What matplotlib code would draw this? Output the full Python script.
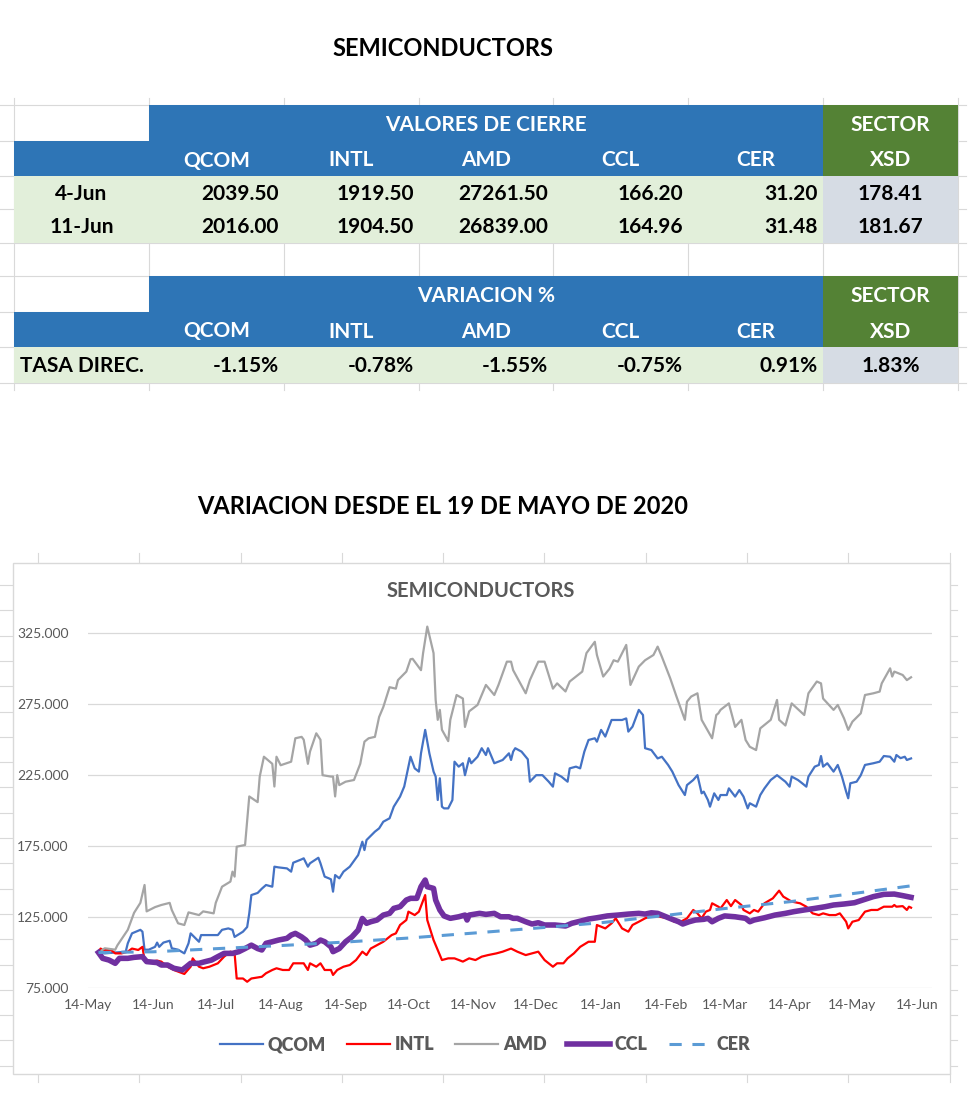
import matplotlib.pyplot as plt
import matplotlib.dates as mdates
from matplotlib.patches import Rectangle
import pandas as pd

plt.rcParams['font.family'] = ['Lato', 'DejaVu Sans']

# ---- table data ----
tickers = ["QCOM", "INTL", "AMD", "CCL", "CER"]
row_dates = ["4-Jun", "11-Jun"]
close_4jun = [2039.50, 1919.50, 27261.50, 166.20, 31.20]
close_11jun = [2016.00, 1904.50, 26839.00, 164.96, 31.48]
xsd_close = [178.41, 181.67]
variation = [-1.15, -0.78, -1.55, -0.75, 0.91]
xsd_variation = 1.83

# ---- chart data (base 100 = 19 May 2020) ----
qcom = [("2020-05-19", 100), ("2020-05-22", 99.4), ("2020-05-27", 100), ("2020-06-01", 100.6),
        ("2020-06-02", 106.5), ("2020-06-04", 113.5), ("2020-06-08", 116), ("2020-06-09", 114.7),
        ("2020-06-10", 102), ("2020-06-12", 102), ("2020-06-15", 104), ("2020-06-16", 107),
        ("2020-06-17", 104), ("2020-06-19", 107), ("2020-06-22", 108.3), ("2020-06-23", 103),
        ("2020-06-26", 102), ("2020-06-29", 99.4), ("2020-07-01", 106.5), ("2020-07-02", 113.5),
        ("2020-07-06", 107.6), ("2020-07-07", 112.3), ("2020-07-13", 112.3), ("2020-07-15", 112.3),
        ("2020-07-17", 116), ("2020-07-20", 117), ("2020-07-22", 116), ("2020-07-23", 111),
        ("2020-07-27", 114.7), ("2020-07-29", 118), ("2020-07-30", 127.6), ("2020-07-31", 140.5),
        ("2020-08-03", 142), ("2020-08-05", 145), ("2020-08-07", 147.6), ("2020-08-10", 146.4),
        ("2020-08-11", 160.5), ("2020-08-13", 160), ("2020-08-17", 159.3), ("2020-08-19", 157),
        ("2020-08-20", 163.3), ("2020-08-24", 165.7), ("2020-08-25", 166.4), ("2020-08-27", 160.5),
        ("2020-08-28", 162.9), ("2020-09-01", 166.8), ("2020-09-02", 162.9), ("2020-09-04", 153.5),
        ("2020-09-06", 152.3), ("2020-09-07", 151.6), ("2020-09-08", 142.9), ("2020-09-09", 154.6),
        ("2020-09-11", 152.3), ("2020-09-13", 157), ("2020-09-16", 160.5), ("2020-09-20", 168.7),
        ("2020-09-22", 178.1), ("2020-09-23", 172.2), ("2020-09-24", 179.3), ("2020-09-28", 185.2),
        ("2020-09-30", 187.5), ("2020-10-02", 192.2), ("2020-10-05", 194.6), ("2020-10-07", 202.8),
        ("2020-10-10", 209.9), ("2020-10-12", 217), ("2020-10-14", 231), ("2020-10-15", 238),
        ("2020-10-17", 229.8), ("2020-10-19", 227.5), ("2020-10-20", 240.4), ("2020-10-22", 256.9),
        ("2020-10-24", 240.4), ("2020-10-26", 227.5), ("2020-10-27", 224), ("2020-10-28", 207.5),
        ("2020-10-29", 222.8), ("2020-10-30", 202.8), ("2020-10-31", 201.6), ("2020-11-02", 201.6),
        ("2020-11-04", 207.5), ("2020-11-05", 234.5), ("2020-11-07", 231), ("2020-11-09", 233.4),
        ("2020-11-10", 225), ("2020-11-12", 237), ("2020-11-13", 233.4), ("2020-11-16", 238),
        ("2020-11-18", 244), ("2020-11-20", 239.2), ("2020-11-21", 244), ("2020-11-24", 233.4),
        ("2020-11-28", 235.7), ("2020-12-01", 240.4), ("2020-12-02", 235.7), ("2020-12-03", 241.6),
        ("2020-12-04", 244), ("2020-12-07", 241.6), ("2020-12-10", 236.2), ("2020-12-11", 220.4),
        ("2020-12-14", 225), ("2020-12-17", 225), ("2020-12-20", 220.4), ("2020-12-22", 216.9),
        ("2020-12-23", 226.3), ("2020-12-26", 224), ("2020-12-29", 220.4), ("2020-12-30", 229.8),
        ("2021-01-02", 231), ("2021-01-04", 229.8), ("2021-01-06", 241.6), ("2021-01-08", 249.8),
        ("2021-01-11", 251), ("2021-01-12", 248.6), ("2021-01-14", 256.9), ("2021-01-16", 252.2),
        ("2021-01-19", 263.9), ("2021-01-21", 263.9), ("2021-01-24", 263.9), ("2021-01-26", 265),
        ("2021-01-27", 255.7), ("2021-01-29", 259.2), ("2021-02-01", 271), ("2021-02-03", 267.4),
        ("2021-02-04", 244), ("2021-02-07", 242.7), ("2021-02-10", 236.8), ("2021-02-12", 238),
        ("2021-02-15", 232.2), ("2021-02-17", 227.5), ("2021-02-20", 218), ("2021-02-23", 211),
        ("2021-02-24", 218), ("2021-02-27", 221.6), ("2021-03-01", 225), ("2021-03-03", 212.2),
        ("2021-03-04", 213.4), ("2021-03-06", 207.5), ("2021-03-07", 202.8), ("2021-03-09", 212.2),
        ("2021-03-11", 207.5), ("2021-03-12", 211), ("2021-03-15", 211), ("2021-03-16", 215.7),
        ("2021-03-19", 209.9), ("2021-03-21", 214.5), ("2021-03-23", 209.9), ("2021-03-25", 201.6),
        ("2021-03-26", 205.2), ("2021-03-29", 202.8), ("2021-03-31", 211), ("2021-04-02", 215.7),
        ("2021-04-05", 221.6), ("2021-04-08", 225), ("2021-04-10", 222.7), ("2021-04-12", 220.4),
        ("2021-04-14", 216.9), ("2021-04-15", 224), ("2021-04-18", 221.6), ("2021-04-20", 219.3),
        ("2021-04-22", 216.9), ("2021-04-23", 224), ("2021-04-26", 231), ("2021-04-28", 232.2),
        ("2021-04-29", 238.5), ("2021-04-30", 231), ("2021-05-02", 233.4), ("2021-05-05", 227.5),
        ("2021-05-07", 232.2), ("2021-05-09", 224), ("2021-05-11", 213.4), ("2021-05-12", 208.7),
        ("2021-05-13", 219.3), ("2021-05-16", 220.4), ("2021-05-18", 225), ("2021-05-20", 232.2),
        ("2021-05-24", 233.4), ("2021-05-27", 234.5), ("2021-05-29", 238.5), ("2021-06-01", 238),
        ("2021-06-03", 234.5), ("2021-06-04", 239.2), ("2021-06-06", 237), ("2021-06-08", 238),
        ("2021-06-09", 235.7), ("2021-06-11", 236.8)]

intl = [("2020-05-19", 100), ("2020-05-20", 102.8), ("2020-05-21", 101.8), ("2020-05-25", 101.8),
        ("2020-05-27", 99.4), ("2020-05-30", 99.4), ("2020-06-02", 100.6), ("2020-06-04", 102.8),
        ("2020-06-07", 101.8), ("2020-06-09", 104), ("2020-06-10", 94.7), ("2020-06-13", 93.6),
        ("2020-06-16", 94.3), ("2020-06-18", 93.6), ("2020-06-21", 90), ("2020-06-24", 87.7),
        ("2020-06-28", 85.4), ("2020-06-29", 84.9), ("2020-07-02", 90), ("2020-07-03", 95.9),
        ("2020-07-06", 90), ("2020-07-08", 88.9), ("2020-07-11", 90), ("2020-07-15", 92.4),
        ("2020-07-18", 97.1), ("2020-07-21", 100.6), ("2020-07-23", 99.4), ("2020-07-24", 81.7),
        ("2020-07-27", 81.7), ("2020-07-29", 79.4), ("2020-07-31", 81.7), ("2020-08-05", 82.9),
        ("2020-08-07", 85.4), ("2020-08-10", 87.7), ("2020-08-12", 88.9), ("2020-08-15", 87.7),
        ("2020-08-18", 87.7), ("2020-08-20", 92.4), ("2020-08-23", 92.4), ("2020-08-25", 92.4),
        ("2020-08-27", 87.7), ("2020-08-28", 92.4), ("2020-08-31", 90), ("2020-09-02", 92.4),
        ("2020-09-04", 87.7), ("2020-09-07", 87.7), ("2020-09-08", 84.2), ("2020-09-10", 87.7),
        ("2020-09-13", 90), ("2020-09-16", 91.2), ("2020-09-19", 94.7), ("2020-09-22", 100.6),
        ("2020-09-24", 98.2), ("2020-09-26", 102.8), ("2020-09-29", 105.2), ("2020-10-02", 107.6),
        ("2020-10-06", 112.3), ("2020-10-08", 113.5), ("2020-10-10", 119.4), ("2020-10-13", 122.9),
        ("2020-10-14", 128.8), ("2020-10-17", 126.4), ("2020-10-19", 128.8), ("2020-10-22", 140.5),
        ("2020-10-23", 122.9), ("2020-10-26", 108.8), ("2020-10-30", 94.7), ("2020-11-02", 95.9),
        ("2020-11-05", 95.9), ("2020-11-09", 93.6), ("2020-11-12", 95.9), ("2020-11-15", 94.7),
        ("2020-11-18", 97.1), ("2020-11-21", 98.2), ("2020-11-25", 99.4), ("2020-11-28", 100.6),
        ("2020-12-02", 102.8), ("2020-12-05", 100.6), ("2020-12-09", 98.2), ("2020-12-12", 99.4),
        ("2020-12-15", 100.6), ("2020-12-18", 94.7), ("2020-12-22", 90), ("2020-12-24", 92.4),
        ("2020-12-27", 92.4), ("2020-12-29", 95.9), ("2021-01-01", 99.4), ("2021-01-04", 104),
        ("2021-01-08", 107.6), ("2021-01-11", 107.6), ("2021-01-12", 119.4), ("2021-01-16", 117),
        ("2021-01-19", 120.6), ("2021-01-21", 124.1), ("2021-01-24", 117), ("2021-01-27", 114.7),
        ("2021-01-29", 119.4), ("2021-02-01", 121.7), ("2021-02-04", 124.1), ("2021-02-08", 126.4),
        ("2021-02-11", 125.2), ("2021-02-15", 124.1), ("2021-02-18", 121.7), ("2021-02-21", 121.7),
        ("2021-02-24", 124.1), ("2021-02-27", 130), ("2021-03-01", 127.6), ("2021-03-03", 124.1),
        ("2021-03-05", 128.8), ("2021-03-07", 130), ("2021-03-08", 134.7), ("2021-03-11", 132.3),
        ("2021-03-12", 131.1), ("2021-03-15", 137), ("2021-03-17", 132.7), ("2021-03-19", 137),
        ("2021-03-22", 133.5), ("2021-03-23", 130), ("2021-03-26", 127.6), ("2021-03-28", 130),
        ("2021-03-30", 128.8), ("2021-04-02", 134.7), ("2021-04-06", 138.2), ("2021-04-09", 143.6),
        ("2021-04-11", 139.4), ("2021-04-15", 135.9), ("2021-04-19", 134.7), ("2021-04-22", 132.3),
        ("2021-04-25", 127.6), ("2021-04-28", 126.4), ("2021-04-30", 127.6), ("2021-05-03", 126.4),
        ("2021-05-06", 126.4), ("2021-05-08", 127.6), ("2021-05-11", 121.7), ("2021-05-12", 117),
        ("2021-05-14", 121.7), ("2021-05-17", 122.9), ("2021-05-20", 128.8), ("2021-05-23", 130),
        ("2021-05-26", 130), ("2021-05-29", 132.3), ("2021-06-02", 132.3), ("2021-06-03", 133.5),
        ("2021-06-04", 132.3), ("2021-06-07", 132.7), ("2021-06-09", 130), ("2021-06-10", 132.3),
        ("2021-06-11", 131.6)]

amd = [("2020-05-19", 100), ("2020-05-22", 103), ("2020-05-27", 102), ("2020-05-28", 105),
       ("2020-06-02", 116), ("2020-06-05", 128), ("2020-06-08", 135), ("2020-06-10", 147.6),
       ("2020-06-11", 129), ("2020-06-15", 132), ("2020-06-18", 133.5), ("2020-06-22", 135),
       ("2020-06-23", 130), ("2020-06-26", 120.6), ("2020-06-29", 119.4), ("2020-07-01", 128.3),
       ("2020-07-06", 126.4), ("2020-07-08", 129), ("2020-07-13", 127.6), ("2020-07-14", 135),
       ("2020-07-17", 146.4), ("2020-07-21", 150), ("2020-07-22", 157), ("2020-07-23", 153.5),
       ("2020-07-24", 174.6), ("2020-07-28", 175.8), ("2020-07-30", 210), ("2020-08-03", 206),
       ("2020-08-04", 224), ("2020-08-06", 238), ("2020-08-10", 233), ("2020-08-11", 217),
       ("2020-08-12", 238), ("2020-08-14", 232), ("2020-08-19", 234.5), ("2020-08-21", 251),
       ("2020-08-24", 252), ("2020-08-25", 250), ("2020-08-27", 233), ("2020-08-28", 241.6),
       ("2020-08-31", 254.5), ("2020-09-02", 250), ("2020-09-03", 225), ("2020-09-07", 224),
       ("2020-09-08", 224), ("2020-09-09", 210), ("2020-09-10", 225), ("2020-09-11", 218),
       ("2020-09-14", 220.4), ("2020-09-18", 221.6), ("2020-09-21", 233), ("2020-09-23", 248.6),
       ("2020-09-25", 251), ("2020-09-28", 252), ("2020-09-30", 266), ("2020-10-02", 273),
       ("2020-10-05", 287), ("2020-10-08", 286), ("2020-10-09", 292), ("2020-10-13", 298),
       ("2020-10-15", 306.7), ("2020-10-16", 307), ("2020-10-20", 299), ("2020-10-21", 311),
       ("2020-10-23", 329.7), ("2020-10-26", 311), ("2020-10-27", 278), ("2020-10-28", 264),
       ("2020-10-29", 271), ("2020-10-30", 257), ("2020-11-02", 249), ("2020-11-03", 264),
       ("2020-11-06", 281.5), ("2020-11-09", 279), ("2020-11-10", 259), ("2020-11-12", 270),
       ("2020-11-16", 274.5), ("2020-11-20", 288.6), ("2020-11-24", 281.5), ("2020-11-26", 288.6),
       ("2020-11-30", 305), ("2020-12-02", 305), ("2020-12-03", 299), ("2020-12-09", 282.7),
       ("2020-12-11", 292), ("2020-12-15", 305), ("2020-12-18", 305), ("2020-12-22", 286),
       ("2020-12-24", 289.7), ("2020-12-28", 284), ("2020-12-30", 291), ("2021-01-05", 298),
       ("2021-01-07", 311), ("2021-01-11", 319), ("2021-01-12", 309.7), ("2021-01-15", 294.5),
       ("2021-01-18", 300), ("2021-01-20", 306), ("2021-01-22", 305), ("2021-01-26", 316.8),
       ("2021-01-28", 288.6), ("2021-02-01", 301.5), ("2021-02-04", 306), ("2021-02-08", 309.7),
       ("2021-02-10", 315.6), ("2021-02-12", 308.5), ("2021-02-16", 293.3), ("2021-02-19", 280.4),
       ("2021-02-23", 264), ("2021-02-24", 276.8), ("2021-02-26", 280.4), ("2021-03-01", 282.7),
       ("2021-03-03", 264), ("2021-03-08", 251), ("2021-03-10", 267.4), ("2021-03-11", 268.6),
       ("2021-03-12", 271), ("2021-03-16", 275.6), ("2021-03-19", 259), ("2021-03-22", 264),
       ("2021-03-24", 249.8), ("2021-03-26", 245), ("2021-03-29", 242.7), ("2021-03-31", 258),
       ("2021-04-05", 264), ("2021-04-08", 278), ("2021-04-09", 264), ("2021-04-12", 260),
       ("2021-04-15", 275.6), ("2021-04-21", 267.4), ("2021-04-23", 282.7), ("2021-04-27", 291),
       ("2021-04-29", 289.7), ("2021-04-30", 279), ("2021-05-05", 271), ("2021-05-07", 274.5),
       ("2021-05-10", 265), ("2021-05-12", 256.9), ("2021-05-14", 262.7), ("2021-05-18", 268.6),
       ("2021-05-20", 281.5), ("2021-05-24", 282.7), ("2021-05-27", 283.9), ("2021-05-28", 289.7),
       ("2021-06-01", 300.3), ("2021-06-02", 294.5), ("2021-06-03", 298), ("2021-06-07", 295.6),
       ("2021-06-09", 292), ("2021-06-11", 294)]

ccl = [("2020-05-19", 100), ("2020-05-21", 95.9), ("2020-05-24", 94.7), ("2020-05-27", 92.4),
       ("2020-05-29", 95.9), ("2020-06-02", 95.9), ("2020-06-05", 96.6), ("2020-06-09", 97.1),
       ("2020-06-11", 93.6), ("2020-06-16", 92.9), ("2020-06-18", 91.2), ("2020-06-21", 91.2),
       ("2020-06-24", 88.9), ("2020-06-28", 87.7), ("2020-06-30", 90), ("2020-07-02", 92.4),
       ("2020-07-06", 92.4), ("2020-07-09", 93.6), ("2020-07-12", 94.7), ("2020-07-15", 97.1),
       ("2020-07-18", 99.4), ("2020-07-22", 99.4), ("2020-07-25", 100.6), ("2020-07-28", 102.8),
       ("2020-07-31", 105.2), ("2020-08-03", 102.8), ("2020-08-05", 101.8), ("2020-08-07", 106.5),
       ("2020-08-10", 107.6), ("2020-08-13", 108.8), ("2020-08-17", 110), ("2020-08-19", 112.3),
       ("2020-08-21", 113.5), ("2020-08-24", 111), ("2020-08-26", 108.8), ("2020-08-28", 105.2),
       ("2020-08-31", 106.5), ("2020-09-02", 108.8), ("2020-09-04", 107.6), ("2020-09-07", 104),
       ("2020-09-08", 100.6), ("2020-09-11", 102.8), ("2020-09-14", 107.6), ("2020-09-17", 111),
       ("2020-09-20", 115.8), ("2020-09-22", 124), ("2020-09-24", 120.6), ("2020-09-26", 121.7),
       ("2020-09-29", 122.9), ("2020-10-02", 126.4), ("2020-10-05", 127.6), ("2020-10-07", 131.1),
       ("2020-10-10", 132.3), ("2020-10-13", 137), ("2020-10-15", 138.2), ("2020-10-18", 138.2),
       ("2020-10-20", 146.4), ("2020-10-22", 151.1), ("2020-10-23", 146.4), ("2020-10-26", 145.2),
       ("2020-10-27", 137), ("2020-10-29", 130), ("2020-10-31", 125.8), ("2020-11-03", 124.1),
       ("2020-11-07", 125.2), ("2020-11-10", 126.4), ("2020-11-11", 122.9), ("2020-11-12", 126.4),
       ("2020-11-17", 127.6), ("2020-11-20", 126.9), ("2020-11-24", 127.6), ("2020-11-27", 125.2),
       ("2020-12-01", 125.2), ("2020-12-03", 124.1), ("2020-12-05", 124.1), ("2020-12-09", 121.7),
       ("2020-12-12", 120.1), ("2020-12-15", 121), ("2020-12-18", 119.4), ("2020-12-23", 119.4),
       ("2020-12-28", 118.7), ("2020-12-31", 120.6), ("2021-01-03", 121.7), ("2021-01-08", 123.6),
       ("2021-01-12", 124.5), ("2021-01-17", 125.8), ("2021-01-22", 126.4), ("2021-01-27", 127.1),
       ("2021-02-01", 127.6), ("2021-02-04", 127.1), ("2021-02-07", 128), ("2021-02-10", 127.6),
       ("2021-02-13", 125.8), ("2021-02-17", 123.4), ("2021-02-20", 121.7), ("2021-02-22", 120.1),
       ("2021-02-25", 121.7), ("2021-02-28", 122.9), ("2021-03-04", 123.4), ("2021-03-06", 124.1),
       ("2021-03-08", 121.7), ("2021-03-11", 124.1), ("2021-03-14", 125.8), ("2021-03-19", 125.2),
       ("2021-03-24", 124.1), ("2021-03-26", 121.7), ("2021-03-28", 122.9), ("2021-04-02", 124.5),
       ("2021-04-07", 126.4), ("2021-04-12", 127.6), ("2021-04-16", 128.8), ("2021-04-21", 130),
       ("2021-04-26", 131.1), ("2021-05-01", 132.3), ("2021-05-05", 133.5), ("2021-05-10", 134.2),
       ("2021-05-15", 135.1), ("2021-05-20", 137.5), ("2021-05-24", 139.4), ("2021-05-29", 141),
       ("2021-06-03", 141.2), ("2021-06-07", 140.1), ("2021-06-11", 138.9)]

cer = [("2020-05-19", 100), ("2020-06-14", 100.5), ("2020-07-14", 102.7), ("2020-08-14", 104.9),
       ("2020-09-14", 107.4), ("2020-10-14", 110.2), ("2020-11-14", 113.7), ("2020-12-14", 117.2),
       ("2021-01-14", 121), ("2021-02-14", 126.2), ("2021-03-14", 131), ("2021-04-14", 135.8),
       ("2021-05-14", 141.5), ("2021-06-11", 147)]

series = [("QCOM", qcom, "#4472C4", 1.6, "-"),
          ("INTL", intl, "#FF0000", 1.6, "-"),
          ("AMD", amd, "#A5A5A5", 1.6, "-"),
          ("CCL", ccl, "#7030A0", 4.0, "-"),
          ("CER", cer, "#5B9BD5", 2.2, (0, (4, 3.5)))]

W, H = 980, 1096
fig = plt.figure(figsize=(W / 100, H / 100), dpi=100)

# background layer in pixel coordinates (table, titles, chart frame)
bg = fig.add_axes([0, 0, 1, 1])
bg.set_xlim(0, W)
bg.set_ylim(H, 0)
bg.axis('off')

blue = "#2E75B6"
green = "#548235"
lgreen = "#E2EFDA"
lgray = "#D6DCE4"
grid = "#D9D9D9"

col_x = [14, 149, 284, 419, 553, 688, 823, 958]
top_rows = [105, 141, 176, 209, 243]
bot_rows = [276, 312, 347, 383]

# spreadsheet cell grid peeking around the table
for x in col_x:
    bg.plot([x, x], [98, 390], color=grid, lw=0.8, zorder=0)
for y in top_rows + bot_rows:
    bg.plot([0, 966], [y, y], color=grid, lw=0.8, zorder=0)


def cell(x0, x1, y0, y1, color):
    bg.add_patch(Rectangle((x0, y0), x1 - x0, y1 - y0, facecolor=color, edgecolor='none', zorder=1))


def header_block(rows, label):
    r0, r1, r2 = rows
    cell(col_x[1], col_x[6], r0, r1, blue)
    cell(col_x[0], col_x[6], r1, r2, blue)
    cell(col_x[6], col_x[7], r0, r2, green)
    bg.text((col_x[1] + col_x[6]) / 2, (r0 + r1) / 2 + 2, label, color='white',
            fontsize=15, fontweight='bold', ha='center', va='center', zorder=3)
    bg.text((col_x[6] + col_x[7]) / 2, (r0 + r1) / 2 + 2, "SECTOR", color='white',
            fontsize=15, fontweight='bold', ha='center', va='center', zorder=3)
    bg.text((col_x[6] + col_x[7]) / 2, (r1 + r2) / 2 + 2, "XSD", color='white',
            fontsize=15, fontweight='bold', ha='center', va='center', zorder=3)
    for i, t in enumerate(tickers):
        bg.text((col_x[i + 1] + col_x[i + 2]) / 2, (r1 + r2) / 2 + 2, t, color='white',
                fontsize=15, fontweight='bold', ha='center', va='center', zorder=3)


header_block(top_rows[:3], "VALORES DE CIERRE")
for k, (lab, vals) in enumerate(zip(row_dates, [close_4jun, close_11jun])):
    y0, y1 = top_rows[2 + k], top_rows[3 + k]
    cell(col_x[0], col_x[6], y0, y1, lgreen)
    cell(col_x[6], col_x[7], y0, y1, lgray)
    yc = (y0 + y1) / 2 + 1
    bg.text((col_x[0] + col_x[1]) / 2, yc, lab, fontsize=15, fontweight='bold',
            ha='center', va='center', zorder=3)
    for i, v in enumerate(vals):
        bg.text(col_x[i + 2] - 5, yc, f"{v:.2f}", fontsize=15, fontweight='bold',
                ha='right', va='center', zorder=3)
    bg.text((col_x[6] + col_x[7]) / 2, yc, f"{xsd_close[k]:.2f}", fontsize=15,
            fontweight='bold', ha='center', va='center', zorder=3)

header_block(bot_rows[:3], "VARIACION %")
y0, y1 = bot_rows[2], bot_rows[3]
cell(col_x[0], col_x[6], y0, y1, lgreen)
cell(col_x[6], col_x[7], y0, y1, lgray)
yc = (y0 + y1) / 2 + 1
bg.text(col_x[0] + 6, yc, "TASA DIREC.", fontsize=15, fontweight='bold',
        ha='left', va='center', zorder=3)
for i, v in enumerate(variation):
    bg.text(col_x[i + 2] - 5, yc, f"{v:.2f}%", fontsize=15, fontweight='bold',
            ha='right', va='center', zorder=3)
bg.text((col_x[6] + col_x[7]) / 2, yc, f"{xsd_variation:.2f}%", fontsize=15,
        fontweight='bold', ha='center', va='center', zorder=3)

bg.text(443, 48, "SEMICONDUCTORS", fontsize=17, fontweight='bold', ha='center', va='center')
bg.text(443, 506, "VARIACION DESDE EL 19 DE MAYO DE 2020", fontsize=17, fontweight='bold',
        ha='center', va='center')

# chart frame + faint sheet grid around it
for x in [38, 139, 241, 342, 443, 544, 646, 747, 848, 950]:
    bg.plot([x, x], [553, 563], color=grid, lw=0.8, zorder=0)
    bg.plot([x, x], [1074, 1082], color=grid, lw=0.8, zorder=0)
for k in range(20):
    y = 585 + 25.3 * k
    if y < 1074:
        bg.plot([0, 13], [y, y], color=grid, lw=0.8, zorder=0)
        bg.plot([950, 957], [y, y], color=grid, lw=0.8, zorder=0)
bg.add_patch(Rectangle((13, 563), 937, 511, facecolor='white', edgecolor=grid, lw=1.0, zorder=1))
bg.text(481, 591, "SEMICONDUCTORS", fontsize=14.5, fontweight='bold', color='#595959',
        ha='center', va='center', zorder=3)

# ---- line chart ----
ax = fig.add_axes([88 / W, 1 - 988 / H, (932 - 88) / W, (988 - 612) / H])
ax.set_facecolor('none')
for name, data, color, lw, ls in series:
    d = pd.to_datetime([p[0] for p in data])
    v = [p[1] for p in data]
    ax.plot(d, v, color=color, lw=lw, linestyle=ls, label=name, solid_joinstyle='round')

ax.set_ylim(75, 340)
ax.set_yticks([75, 125, 175, 225, 275, 325])
ax.yaxis.set_major_formatter(plt.FuncFormatter(lambda v, p: f"{v:.3f}"))
ax.set_xlim(pd.Timestamp("2020-05-14"), pd.Timestamp("2021-06-21"))
ax.xaxis.set_major_locator(mdates.MonthLocator(bymonthday=14))
ax.xaxis.set_major_formatter(mdates.DateFormatter('%d-%b'))
ax.grid(axis='y', color=grid, lw=0.9)
ax.set_axisbelow(True)
for s in ax.spines.values():
    s.set_visible(False)
ax.tick_params(axis='both', length=0, labelsize=10, labelcolor='#595959')
ax.tick_params(axis='x', pad=8)
ax.tick_params(axis='y', pad=14)

leg = ax.legend(loc='center', bbox_to_anchor=(485 / W, 1 - 1045 / H),
                bbox_transform=fig.transFigure, ncol=5, frameon=False, handlelength=2.4,
                handletextpad=0.25, columnspacing=1.15, fontsize=13)
for t in leg.get_texts():
    t.set_fontweight('heavy')
    t.set_color('#595959')

fig.savefig("out.png", dpi=100)
